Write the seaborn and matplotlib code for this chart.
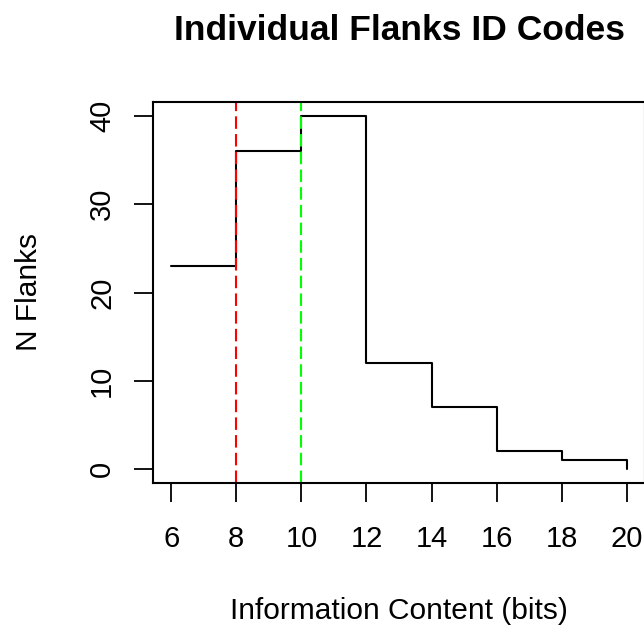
import matplotlib
matplotlib.use("Agg")
import matplotlib.pyplot as plt
import seaborn as sns
import pandas as pd

bits = [6, 8, 10, 12, 14, 16, 18, 20]
n_flanks = [23, 36, 40, 12, 7, 2, 1, 0]
red_line_x = 8
green_line_x = 10
x_ticks = [6, 8, 10, 12, 14, 16, 18, 20]
y_ticks = [0, 10, 20, 30, 40]

sns.set_theme(style="white")
plt.rcParams['font.family'] = ['Liberation Sans', 'DejaVu Sans']
plt.rcParams['text.color'] = 'black'
plt.rcParams['axes.labelcolor'] = 'black'
plt.rcParams['xtick.color'] = 'black'
plt.rcParams['ytick.color'] = 'black'

W, H = 644, 625
fig = plt.figure(figsize=(W / 100, H / 100), dpi=100)
ax = fig.add_axes([153 / W, (H - 483) / H, (645 - 153) / W, (483 - 102) / H])

df = pd.DataFrame({"bits": bits, "n": n_flanks})
sns.lineplot(data=df, x="bits", y="n", drawstyle="steps-post", color="black",
             linewidth=1.5, ax=ax, sort=False)
ax.axvline(red_line_x, color="#FF0000", linestyle=(0, (6, 2.5)), linewidth=1.5)
ax.axvline(green_line_x, color="#00FF00", linestyle=(0, (6, 2.5)), linewidth=1.5)

ax.set_xlim(5.44, 20.56)
ax.set_ylim(-1.6, 41.6)
ax.set_xticks(x_ticks)
ax.set_yticks(y_ticks)
ax.tick_params(axis='both', direction='out', length=13.5, width=1.3,
               labelsize=21, bottom=True, left=True)
ax.tick_params(axis='x', pad=17)
ax.tick_params(axis='y', pad=13)
for lab in ax.get_yticklabels():
    lab.set_rotation(90)
    lab.set_va('center')
for s in ax.spines.values():
    s.set_color('black')
    s.set_linewidth(1.5)

ax.set_xlabel("")
ax.set_ylabel("")
fig.text(399 / W, (H - 619) / H, "Information Content (bits)", ha='center',
         va='baseline', fontsize=21.5)
fig.text(37 / W, (H - 292) / H, "N Flanks", ha='center', va='baseline',
         rotation=90, rotation_mode='anchor', fontsize=21.5)
fig.text(400 / W, (H - 40) / H, "Individual Flanks ID Codes", ha='center',
         va='baseline', fontsize=25.5, fontweight='bold')

fig.savefig("out.png", dpi=100)
